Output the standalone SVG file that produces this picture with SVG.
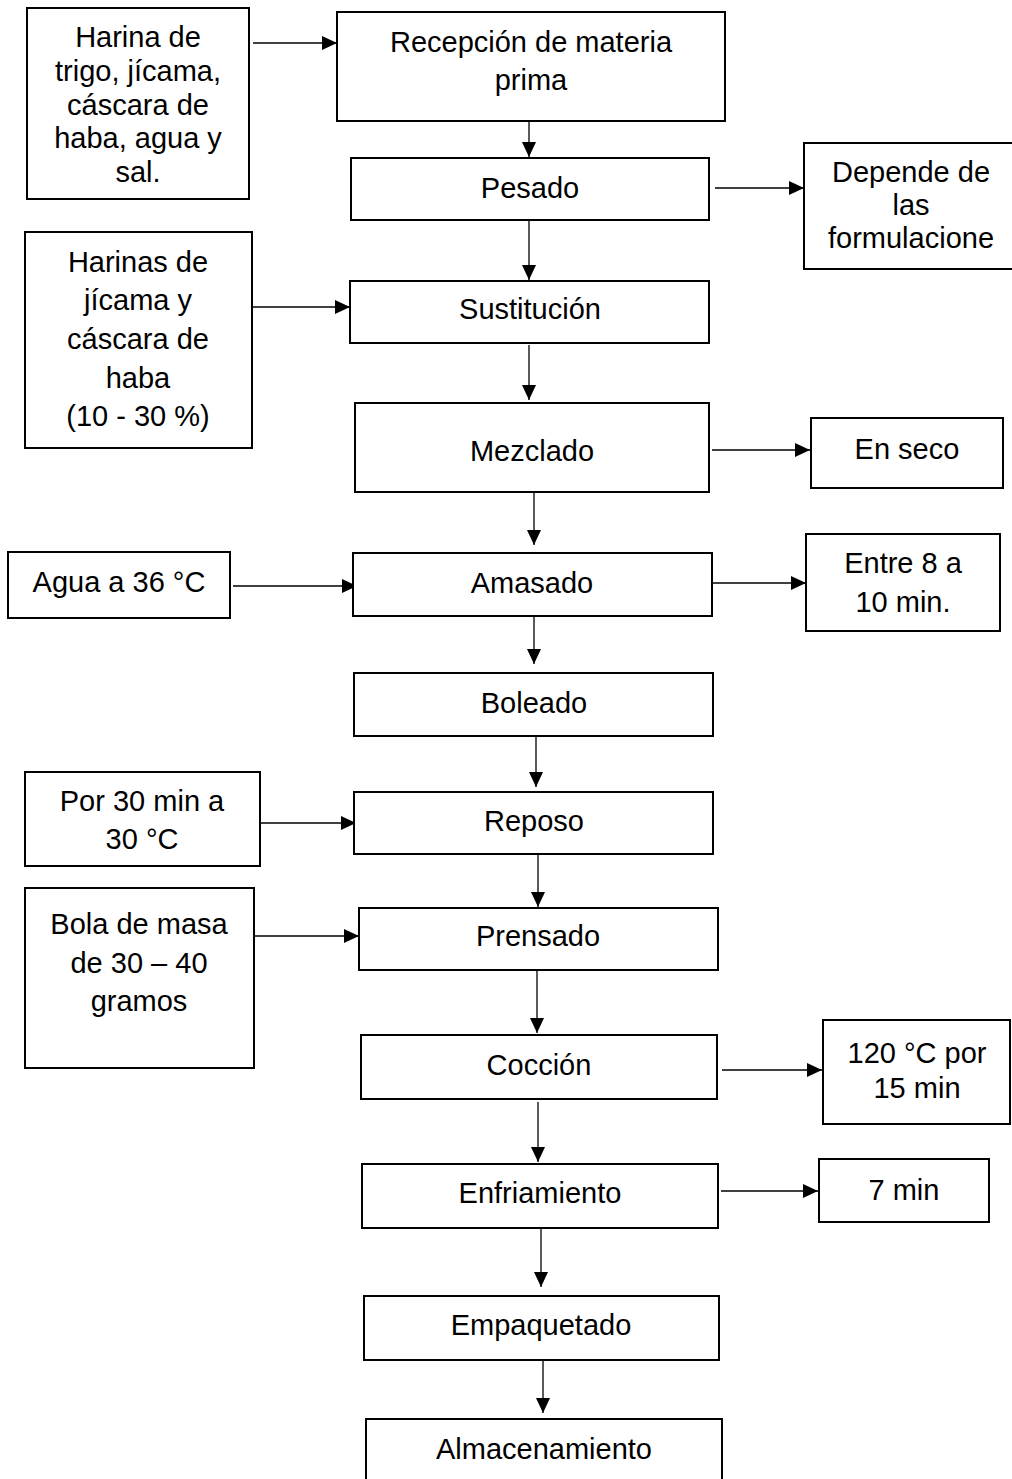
<svg xmlns="http://www.w3.org/2000/svg" width="1012" height="1479" viewBox="0 0 1012 1479">
<style>
.box{fill:#fff;stroke:#000;stroke-width:2}
.t{font-family:"Liberation Sans",Arial,sans-serif;font-size:29px;fill:#000;text-anchor:middle}
.c{stroke:#000;stroke-width:1.3;fill:none;marker-end:url(#ah)}
</style>
<defs>
<marker id="ah" markerUnits="userSpaceOnUse" markerWidth="15" markerHeight="14" refX="15" refY="7" orient="auto">
<path d="M0,0 L15,7 L0,14 z" fill="#000"/>
</marker>
</defs>
<rect width="1012" height="1479" fill="#fff"/>
<g id="connectors">
<line class="c" x1="253" y1="43" x2="337" y2="43"/>
<line class="c" x1="529" y1="98" x2="529" y2="157"/>
<line class="c" x1="715" y1="188" x2="804" y2="188"/>
<line class="c" x1="529" y1="221" x2="529" y2="280"/>
<line class="c" x1="253" y1="307" x2="350" y2="307"/>
<line class="c" x1="529" y1="345" x2="529" y2="400"/>
<line class="c" x1="712" y1="450" x2="810" y2="450"/>
<line class="c" x1="534" y1="492" x2="534" y2="545"/>
<line class="c" x1="233" y1="586" x2="357" y2="586"/>
<line class="c" x1="709" y1="583" x2="806" y2="583"/>
<line class="c" x1="534" y1="611" x2="534" y2="664"/>
<line class="c" x1="536" y1="733" x2="536" y2="787"/>
<line class="c" x1="260" y1="823" x2="356" y2="823"/>
<line class="c" x1="538" y1="854" x2="538" y2="907"/>
<line class="c" x1="255" y1="936" x2="359" y2="936"/>
<line class="c" x1="537" y1="967" x2="537" y2="1033"/>
<line class="c" x1="722" y1="1070" x2="822" y2="1070"/>
<line class="c" x1="538" y1="1102" x2="538" y2="1162"/>
<line class="c" x1="721" y1="1191" x2="818" y2="1191"/>
<line class="c" x1="541" y1="1227" x2="541" y2="1287"/>
<line class="c" x1="543" y1="1354" x2="543" y2="1413"/>
</g>
<g id="n-harina">
<rect class="box" x="27" y="8" width="222" height="191"/>
<text class="t" x="138" y="47">Harina de</text>
<text class="t" x="138" y="81">trigo, jícama,</text>
<text class="t" x="138" y="115">cáscara de</text>
<text class="t" x="138" y="148">haba, agua y</text>
<text class="t" x="138" y="182">sal.</text>
</g>
<g id="n-recepcion">
<rect class="box" x="337" y="12" width="388" height="109"/>
<text class="t" x="531" y="52">Recepción de materia</text>
<text class="t" x="531" y="90">prima</text>
</g>
<g id="n-pesado">
<rect class="box" x="351" y="158" width="358" height="62"/>
<text class="t" x="530" y="198">Pesado</text>
</g>
<g id="n-depende">
<rect class="box" x="804" y="143" width="212" height="126"/>
<text class="t" x="911" y="182">Depende de</text>
<text class="t" x="911" y="215">las</text>
<text class="t" x="911" y="248">formulacione</text>
</g>
<g id="n-harinas">
<rect class="box" x="25" y="232" width="227" height="216"/>
<text class="t" x="138" y="272">Harinas de</text>
<text class="t" x="138" y="310">jícama y</text>
<text class="t" x="138" y="349">cáscara de</text>
<text class="t" x="138" y="388">haba</text>
<text class="t" x="138" y="426">(10 - 30 %)</text>
</g>
<g id="n-sustitucion">
<rect class="box" x="350" y="281" width="359" height="62"/>
<text class="t" x="530" y="319">Sustitución</text>
</g>
<g id="n-mezclado">
<rect class="box" x="355" y="403" width="354" height="89"/>
<text class="t" x="532" y="461">Mezclado</text>
</g>
<g id="n-enseco">
<rect class="box" x="811" y="418" width="192" height="70"/>
<text class="t" x="907" y="459">En seco</text>
</g>
<g id="n-agua">
<rect class="box" x="8" y="552" width="222" height="66"/>
<text class="t" x="119" y="592">Agua a 36 °C</text>
</g>
<g id="n-amasado">
<rect class="box" x="353" y="553" width="359" height="63"/>
<text class="t" x="532" y="593">Amasado</text>
</g>
<g id="n-entre">
<rect class="box" x="806" y="534" width="194" height="97"/>
<text class="t" x="903" y="573">Entre 8 a</text>
<text class="t" x="903" y="612">10 min.</text>
</g>
<g id="n-boleado">
<rect class="box" x="354" y="673" width="359" height="63"/>
<text class="t" x="534" y="713">Boleado</text>
</g>
<g id="n-por">
<rect class="box" x="25" y="772" width="235" height="94"/>
<text class="t" x="142" y="811">Por 30 min a</text>
<text class="t" x="142" y="849">30 °C</text>
</g>
<g id="n-reposo">
<rect class="box" x="354" y="792" width="359" height="62"/>
<text class="t" x="534" y="831">Reposo</text>
</g>
<g id="n-bola">
<rect class="box" x="25" y="888" width="229" height="180"/>
<text class="t" x="139" y="934">Bola de masa</text>
<text class="t" x="139" y="973">de 30 – 40</text>
<text class="t" x="139" y="1011">gramos</text>
</g>
<g id="n-prensado">
<rect class="box" x="359" y="908" width="359" height="62"/>
<text class="t" x="538" y="946">Prensado</text>
</g>
<g id="n-coccion">
<rect class="box" x="361" y="1035" width="356" height="64"/>
<text class="t" x="539" y="1075">Cocción</text>
</g>
<g id="n-120">
<rect class="box" x="823" y="1020" width="187" height="104"/>
<text class="t" x="917" y="1063">120 °C por</text>
<text class="t" x="917" y="1098">15 min</text>
</g>
<g id="n-enfriamiento">
<rect class="box" x="362" y="1164" width="356" height="64"/>
<text class="t" x="540" y="1203">Enfriamiento</text>
</g>
<g id="n-7min">
<rect class="box" x="819" y="1159" width="170" height="63"/>
<text class="t" x="904" y="1200">7 min</text>
</g>
<g id="n-empaquetado">
<rect class="box" x="364" y="1296" width="355" height="64"/>
<text class="t" x="541" y="1335">Empaquetado</text>
</g>
<g id="n-almacenamiento">
<rect class="box" x="366" y="1419" width="356" height="80"/>
<text class="t" x="544" y="1459">Almacenamiento</text>
</g>
</svg>
